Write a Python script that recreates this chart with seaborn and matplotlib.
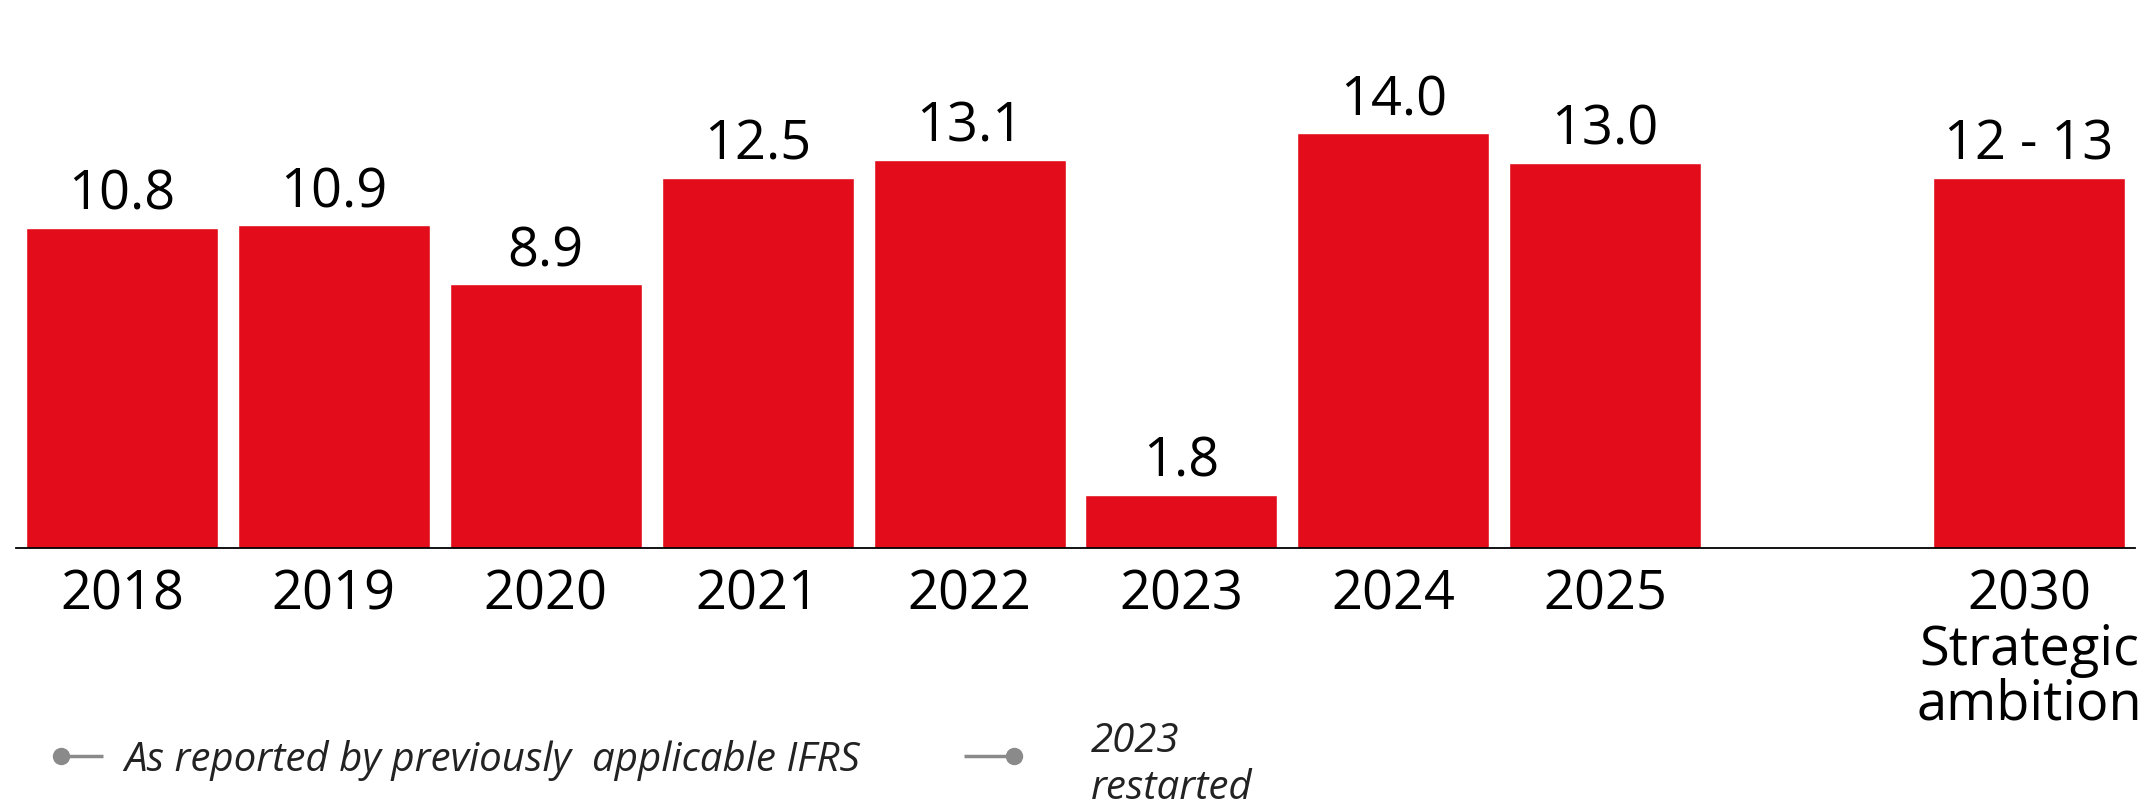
import matplotlib
matplotlib.use("Agg")
import matplotlib.pyplot as plt
from matplotlib.lines import Line2D
import seaborn as sns
import pandas as pd

# ---- data ----
categories = ["2018", "2019", "2020", "2021", "2022", "2023", "2024", "2025",
              "2030\nStrategic\nambition"]
values = [10.8, 10.9, 8.9, 12.5, 13.1, 1.8, 14.0, 13.0, 12.5]
value_labels = ["10.8", "10.9", "8.9", "12.5", "13.1", "1.8", "14.0", "13.0", "12 - 13"]
legend_label_1 = "As reported by previously  applicable IFRS"
legend_label_2 = ["2023", "restarted"]

BAR_RED = "#E20C1A"
GREY = "#8A8A8A"

sns.set_theme(style="white")
plt.rcParams["font.family"] = ["Open Sans", "DejaVu Sans"]

W, H = 2152, 808
DPI = 100
fig = plt.figure(figsize=(W / DPI, H / DPI), dpi=DPI)
fig.patch.set_facecolor("white")

left_px, right_px = 16, 2135
base_px = 548.3
ax = fig.add_axes([left_px / W, (H - base_px) / H, (right_px - left_px) / W, base_px / H])

df = pd.DataFrame({"cat": categories, "val": values})
order = categories[:8] + [" "] + categories[8:]
sns.barplot(data=df, x="cat", y="val", order=order, color=BAR_RED,
            saturation=1, width=0.906, ax=ax, errorbar=None)

ax.set_xlim(-0.5, len(order) - 0.5)
ax.set_ylim(0, 18.49)
ax.set_xlabel("")
ax.set_ylabel("")
ax.set_yticks([])
for s in ["top", "right", "left"]:
    ax.spines[s].set_visible(False)
ax.spines["bottom"].set_color("black")
ax.spines["bottom"].set_linewidth(1.3)
ax.tick_params(axis="x", length=0, pad=14, labelsize=39, labelcolor="black")
for t in ax.get_xticklabels():
    t.set_linespacing(1.0)
ax.set_facecolor("white")

# value labels
for cat, v, lab in zip(categories, values, value_labels):
    xpos = order.index(cat)
    ax.annotate(lab, xy=(xpos, v), xytext=(0, 13), textcoords="offset points",
                ha="center", va="baseline", fontsize=39, color="black")

legend_size = 29
text_kw = dict(style="italic", fontsize=legend_size, color="#222222",
               va="baseline", ha="left")

# legend item 1: marker at left end
y1 = (H - 755.7) / H
fig.add_artist(Line2D([61 / W, 103 / W], [y1, y1], transform=fig.transFigure,
                      color=GREY, lw=2.5, solid_capstyle="butt"))
fig.add_artist(Line2D([61 / W], [y1], transform=fig.transFigure, color=GREY,
                      marker="o", markersize=11.5, lw=0))
fig.text(124 / W, (H - 770.7) / H, legend_label_1, **text_kw)

# legend item 2: marker at right end
fig.add_artist(Line2D([964 / W, 1014 / W], [y1, y1], transform=fig.transFigure,
                      color=GREY, lw=2.5, solid_capstyle="butt"))
fig.add_artist(Line2D([1014 / W], [y1], transform=fig.transFigure, color=GREY,
                      marker="o", markersize=11.5, lw=0))
fig.text(1091 / W, (H - 751.7) / H, legend_label_2[0], **text_kw)
fig.text(1091 / W, (H - 799.0) / H, legend_label_2[1], **text_kw)

fig.savefig("out.png", dpi=DPI, facecolor="white")
